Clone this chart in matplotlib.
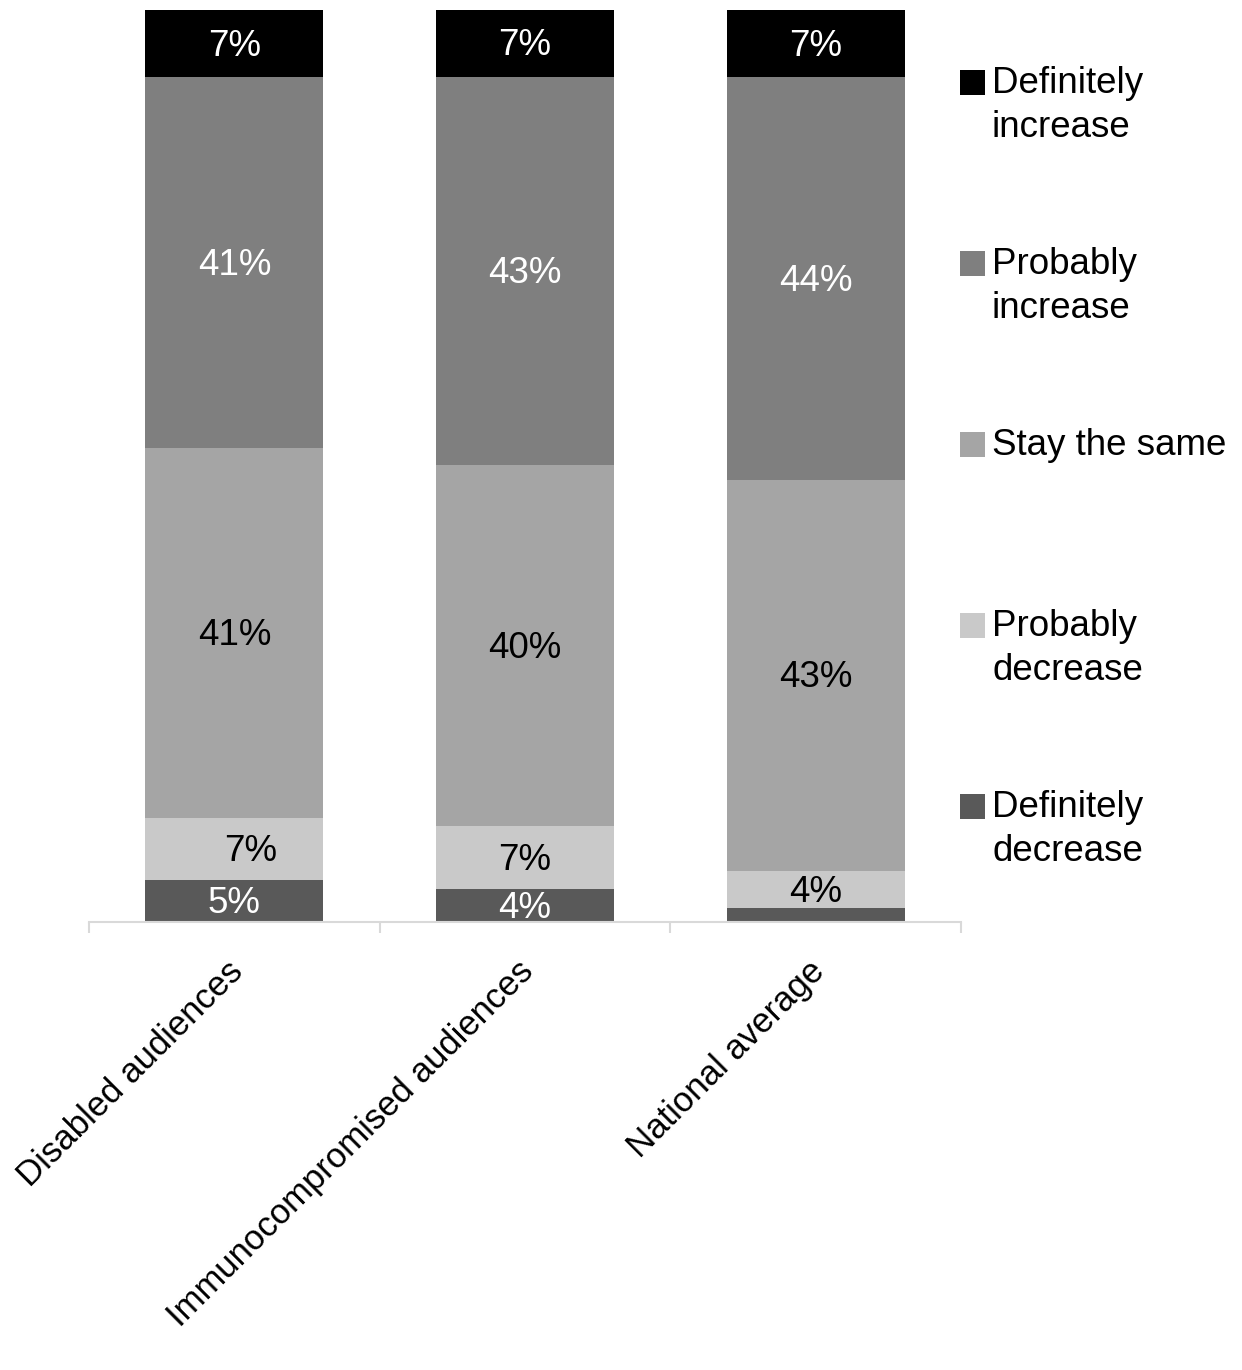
import numpy as np
import matplotlib.pyplot as plt
from matplotlib.patches import Rectangle
from matplotlib.transforms import ScaledTranslation

plt.rcParams['font.family'] = ['Liberation Sans', 'DejaVu Sans']

categories = ['Disabled audiences', 'Immunocompromised audiences', 'National average']
series_names = ['Definitely decrease', 'Probably decrease', 'Stay the same',
                'Probably increase', 'Definitely increase']
legend_labels = ['Definitely\ndecrease', 'Probably\ndecrease', 'Stay the same',
                 'Probably\nincrease', 'Definitely\nincrease']
# percentages, bottom to top
definitely_decrease = [4.6, 3.6, 1.5]
probably_decrease = [6.8, 6.9, 4.1]
stay_the_same = [40.6, 39.6, 42.9]
probably_increase = [40.6, 42.6, 44.1]
definitely_increase = [7.4, 7.3, 7.4]
show_label = [[True, True, False], [True, True, True], [True, True, True],
              [True, True, True], [True, True, True]]

colors = ['#595959', '#c9c9c9', '#a5a5a5', '#7f7f7f', '#000000']
text_colors = ['white', 'black', 'black', 'white', 'white']

values = [definitely_decrease, probably_decrease, stay_the_same,
          probably_increase, definitely_increase]

fs = 26.5

fig = plt.figure(figsize=(12.42, 13.70), dpi=100)
ax = fig.add_axes([89 / 1242, 1 - 922 / 1370, 872 / 1242, 912 / 1370])

down = ScaledTranslation(0, -0.025, fig.dpi_scale_trans)
x = np.arange(len(categories))
bottom = np.zeros(len(categories))
for i, vals in enumerate(values):
    vals = np.array(vals)
    ax.bar(x, vals, 0.612, bottom=bottom, color=colors[i], edgecolor='none',
           label=series_names[i], zorder=2)
    for j in range(len(categories)):
        if show_label[i][j]:
            dx = 0.055 if (i == 1 and j == 0) else 0
            ax.text(x[j] + dx, bottom[j] + vals[j] / 2, '{:.0f}%'.format(vals[j]),
                    ha='center', va='center', fontsize=fs, color=text_colors[i],
                    zorder=3, transform=ax.transData + down)
    bottom += vals

ax.set_xlim(-0.5, 2.5)
ax.set_ylim(0, 100)
for s in ['left', 'right', 'top']:
    ax.spines[s].set_visible(False)
ax.spines['bottom'].set_color('#d9d9d9')
ax.spines['bottom'].set_linewidth(1.5)
ax.set_yticks([])
ax.set_xticks([-0.5, 0.5, 1.5, 2.5])
ax.set_xticklabels([])
ax.tick_params(axis='x', which='major', length=8, width=1.5, color='#d9d9d9')
ax.set_xticks(x, minor=True)
ax.set_xticklabels(categories, minor=True, rotation=45, ha='right', va='top',
                   rotation_mode='anchor', fontsize=25)
ax.tick_params(axis='x', which='minor', length=0, pad=18)
for lbl in ax.get_xticklabels(minor=True):
    lbl.set_transform(lbl.get_transform() + ScaledTranslation(-0.08, -0.08, fig.dpi_scale_trans))

# legend, top entry first, handle aligned with first text line
for k, i in enumerate(range(len(series_names) - 1, -1, -1)):
    yc = 82 + k * 181
    fig.add_artist(Rectangle((960 / 1242, 1 - (yc + 13) / 1370), 25 / 1242, 25 / 1370,
                             transform=fig.transFigure, facecolor=colors[i],
                             edgecolor='none'))
    fig.text(992 / 1242, 1 - (yc - 16) / 1370, legend_labels[i], ha='left', va='top',
             fontsize=fs, color='black', linespacing=1.32)

fig.savefig('out.png', dpi=100)
